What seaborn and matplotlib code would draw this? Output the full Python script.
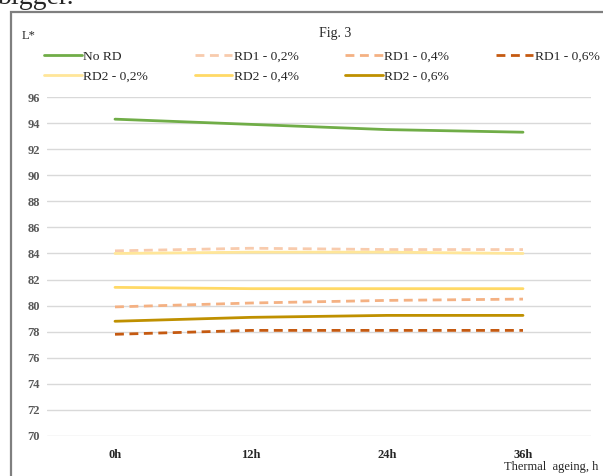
import pandas as pd
import seaborn as sns
import matplotlib.pyplot as plt
from matplotlib.lines import Line2D
from matplotlib.patches import Rectangle

# data (L* values vs thermal ageing time)
hours = ['0h', '12h', '24h', '36h']
no_rd = [94.3, 93.9, 93.5, 93.3]
rd1_02 = [84.2, 84.4, 84.3, 84.3]
rd1_04 = [79.9, 80.2, 80.4, 80.5]
rd1_06 = [77.8, 78.1, 78.1, 78.1]
rd2_02 = [84.0, 84.1, 84.1, 84.0]
rd2_04 = [81.4, 81.3, 81.3, 81.3]
rd2_06 = [78.8, 79.1, 79.25, 79.25]

series_names = ['No RD', 'RD1 - 0,2%', 'RD1 - 0,4%', 'RD1 - 0,6%',
                'RD2 - 0,2%', 'RD2 - 0,4%', 'RD2 - 0,6%']
series_vals = [no_rd, rd1_02, rd1_04, rd1_06, rd2_02, rd2_04, rd2_06]
colors = ['#70ad47', '#f8cbad', '#f4b183', '#c55a11',
          '#ffe699', '#ffd966', '#bf9000']
dashed = [False, True, True, True, False, False, False]

rows = []
for name, vals in zip(series_names, series_vals):
    for h, v in zip(hours, vals):
        rows.append({'series': name, 'time': h, 'L': v})
df = pd.DataFrame(rows)

sns.set_style('white')
plt.rcParams['font.family'] = ['Liberation Serif', 'DejaVu Serif']

fig = plt.figure(figsize=(6.03, 4.76), dpi=100)
W, H = 603, 476
ax = fig.add_axes([47 / W, 1 - 436 / H, 544 / W, (436 - 97) / H])

dash = (0, (3.2, 2.0))
for name, col, dsh in zip(series_names, colors, dashed):
    sub = df[df['series'] == name]
    sns.lineplot(data=sub, x='time', y='L', ax=ax, color=col, linewidth=2.0,
                 linestyle=dash if dsh else '-', legend=False, sort=False)

ax.set_xlim(-0.5, 3.5)
ax.set_ylim(70, 96)
ax.set_yticks(range(70, 97, 2))
ax.grid(axis='y', color='#d9d9d9', linewidth=1)
ax.set_axisbelow(True)
for s in ax.spines.values():
    s.set_visible(False)
ax.tick_params(axis='both', length=0)
ax.tick_params(axis='y', pad=5, labelsize=9, labelcolor='#595959')
ax.tick_params(axis='x', pad=9, labelsize=9, labelcolor='#262626')
for lab in ax.get_yticklabels() + ax.get_xticklabels():
    lab.set_fontweight('bold')
ax.set_xlabel('')
ax.set_ylabel('')

# texts
fig.text(335 / W, 1 - 34 / H, 'Fig. 3', ha='center', va='center', fontsize=10)
fig.text(22 / W, 1 - 36 / H, 'L*', ha='left', va='center', fontsize=9)
fig.text(598 / W, 1 - 467 / H, 'Thermal  ageing, h', ha='right', va='center',
         fontsize=9)
fig.text(-2 / W, 1 - 4 / H, 'bigger.', ha='left', va='baseline', fontsize=20)

# legend, row order like the original
handles = [Line2D([], [], color=c, linewidth=2.0, linestyle=dash if d else '-')
           for c, d in zip(colors, dashed)]
order = [0, 4, 1, 5, 2, 6, 3]
fig.legend([handles[i] for i in order], [series_names[i] for i in order],
           ncol=4, loc='center left', bbox_to_anchor=(32 / W, 1 - 66.5 / H),
           frameon=False, fontsize=9.7, handlelength=2.8, handletextpad=0.1,
           columnspacing=3.45, labelspacing=0.5)

# outer chart border
fig.patches.append(Rectangle((11 / W, -0.2), 2.0, 1.2 - 12 / H,
                             transform=fig.transFigure, fill=False,
                             edgecolor='#7f7f7f', linewidth=1.6))

fig.savefig('out.png', dpi=100)
